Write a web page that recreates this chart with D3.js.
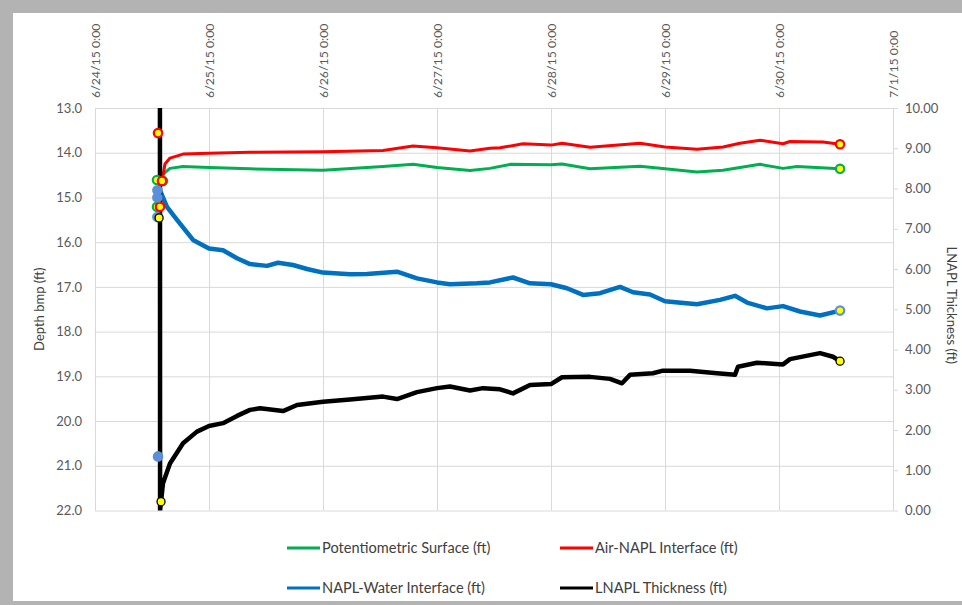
<!DOCTYPE html>
<html>
<head>
<meta charset="utf-8">
<script src="https://cdn.jsdelivr.net/npm/d3@7"></script>
<style>
  body { margin: 0; background: #b3b3b3; }
  text { font-family: Lato, "Open Sans", sans-serif; }
</style>
</head>
<body>
<div id="vis"></div>
<script>
// data (time, depth in ft / thickness in ft)
const potentiometric = [
  ["6/24/15 14:06", 14.50], ["6/24/15 15:47", 14.35], ["6/24/15 18:32", 14.31],
  ["6/25/15 0:00", 14.33], ["6/25/15 8:38", 14.36], ["6/26/15 0:00", 14.39],
  ["6/26/15 12:38", 14.31], ["6/26/15 18:57", 14.26], ["6/27/15 0:00", 14.33],
  ["6/27/15 6:57", 14.40], ["6/27/15 11:09", 14.35], ["6/27/15 15:22", 14.26],
  ["6/28/15 0:00", 14.27], ["6/28/15 2:19", 14.25], ["6/28/15 8:13", 14.36],
  ["6/28/15 18:44", 14.30], ["6/29/15 0:00", 14.36], ["6/29/15 6:44", 14.43],
  ["6/29/15 12:13", 14.39], ["6/29/15 20:00", 14.26], ["6/30/15 0:51", 14.35],
  ["6/30/15 3:47", 14.31], ["6/30/15 12:51", 14.36]
];
const airNapl = [
  ["6/24/15 14:06", 14.65], ["6/24/15 14:44", 14.25], ["6/24/15 15:47", 14.12],
  ["6/24/15 18:32", 14.03], ["6/25/15 0:00", 14.01], ["6/25/15 8:38", 13.99],
  ["6/26/15 0:00", 13.98], ["6/26/15 12:38", 13.95], ["6/26/15 18:57", 13.85],
  ["6/27/15 0:00", 13.89], ["6/27/15 6:57", 13.96], ["6/27/15 11:09", 13.90],
  ["6/27/15 13:16", 13.89], ["6/27/15 18:06", 13.80], ["6/28/15 0:00", 13.83],
  ["6/28/15 2:19", 13.79], ["6/28/15 8:13", 13.88], ["6/28/15 18:44", 13.79],
  ["6/29/15 0:00", 13.87], ["6/29/15 6:44", 13.92], ["6/29/15 12:13", 13.87],
  ["6/29/15 15:47", 13.79], ["6/29/15 20:00", 13.72], ["6/30/15 0:51", 13.80],
  ["6/30/15 2:19", 13.75], ["6/30/15 9:16", 13.76], ["6/30/15 12:51", 13.81]
];
const naplWater = [
  ["6/24/15 13:41", 14.84], ["6/24/15 15:09", 15.21], ["6/24/15 17:16", 15.50],
  ["6/24/15 20:38", 15.95], ["6/25/15 0:00", 16.14], ["6/25/15 2:57", 16.18],
  ["6/25/15 5:54", 16.36], ["6/25/15 8:38", 16.49], ["6/25/15 12:13", 16.53],
  ["6/25/15 14:32", 16.46], ["6/25/15 17:41", 16.51], ["6/25/15 20:38", 16.60],
  ["6/26/15 0:00", 16.68], ["6/26/15 5:41", 16.72], ["6/26/15 9:16", 16.71],
  ["6/26/15 15:35", 16.66], ["6/26/15 19:47", 16.81], ["6/27/15 0:00", 16.90],
  ["6/27/15 2:44", 16.94], ["6/27/15 8:25", 16.92], ["6/27/15 11:09", 16.90],
  ["6/27/15 16:00", 16.79], ["6/27/15 19:35", 16.92], ["6/28/15 0:00", 16.94],
  ["6/28/15 3:22", 17.03], ["6/28/15 6:44", 17.18], ["6/28/15 10:19", 17.14],
  ["6/28/15 14:32", 17.00], ["6/28/15 17:16", 17.12], ["6/28/15 20:51", 17.17],
  ["6/29/15 0:00", 17.32], ["6/29/15 6:44", 17.39], ["6/29/15 11:35", 17.29],
  ["6/29/15 14:44", 17.20], ["6/29/15 17:16", 17.35], ["6/29/15 21:28", 17.48],
  ["6/30/15 0:51", 17.43], ["6/30/15 4:25", 17.55], ["6/30/15 8:38", 17.64],
  ["6/30/15 12:51", 17.53]
];
const thickness = [
  ["6/24/15 13:40", 10.2], ["6/24/15 13:41", 7.27], ["6/24/15 13:42", 0.0],
  ["6/24/15 13:54", 0.22], ["6/24/15 14:19", 0.68], ["6/24/15 15:47", 1.17],
  ["6/24/15 18:32", 1.67], ["6/24/15 21:28", 1.96], ["6/25/15 0:00", 2.10],
  ["6/25/15 2:57", 2.17], ["6/25/15 5:54", 2.35], ["6/25/15 8:38", 2.50],
  ["6/25/15 10:44", 2.54], ["6/25/15 15:35", 2.47], ["6/25/15 18:32", 2.62],
  ["6/26/15 0:00", 2.70], ["6/26/15 5:41", 2.76], ["6/26/15 12:38", 2.83],
  ["6/26/15 15:35", 2.77], ["6/26/15 19:47", 2.94], ["6/27/15 0:00", 3.04],
  ["6/27/15 2:44", 3.08], ["6/27/15 6:57", 2.98], ["6/27/15 9:41", 3.04],
  ["6/27/15 13:16", 3.01], ["6/27/15 16:00", 2.91], ["6/27/15 19:35", 3.12],
  ["6/28/15 0:00", 3.14], ["6/28/15 2:19", 3.31], ["6/28/15 8:13", 3.32],
  ["6/28/15 12:25", 3.27], ["6/28/15 14:57", 3.16], ["6/28/15 16:38", 3.37],
  ["6/28/15 21:28", 3.41], ["6/28/15 23:22", 3.47], ["6/29/15 5:16", 3.47],
  ["6/29/15 10:57", 3.41], ["6/29/15 14:44", 3.37], ["6/29/15 15:22", 3.57],
  ["6/29/15 19:22", 3.67], ["6/30/15 0:51", 3.63], ["6/30/15 2:19", 3.76],
  ["6/30/15 8:38", 3.91], ["6/30/15 11:22", 3.82], ["6/30/15 12:51", 3.71]
];

// first readings plotted as single markers
const potentiometricStart = [["6/24/15 13:03", 14.61], ["6/24/15 13:03", 15.21], ["6/24/15 14:19", 14.63]];
const airNaplStart = [["6/24/15 13:16", 13.56], ["6/24/15 14:06", 14.63], ["6/24/15 13:41", 15.21]];
const naplWaterStart = [["6/24/15 13:08", 14.84], ["6/24/15 13:08", 15.0], ["6/24/15 13:08", 15.44], ["6/24/15 13:16", 20.79]];
const thicknessStart = [["6/24/15 13:30", 7.27], ["6/24/15 13:54", 0.22]];

const depthTicks = [13, 14, 15, 16, 17, 18, 19, 20, 21, 22];
const thicknessTicks = [0, 1, 2, 3, 4, 5, 6, 7, 8, 9, 10];
const seriesNames = ["Potentiometric Surface (ft)", "Air-NAPL Interface (ft)",
  "NAPL-Water Interface (ft)", "LNAPL Thickness (ft)"];

const WIDTH = 962;
const HEIGHT = 605;
const margin = { top: 108, bottom: 95, left: 95, right: 69 };
const WIDTHVIS = WIDTH - margin.left - margin.right;
const HEIGHTVIS = 402.5;

const parse = d3.timeParse("%m/%d/%y %H:%M");
const rows = (arr) => arr.map((d) => ({ t: parse(d[0]), v: d[1] }));

const SVG = d3.select("#vis").append("svg")
  .attr("width", WIDTH).attr("height", HEIGHT)
  .style("display", "block");

// chart frame
SVG.append("rect").attr("width", WIDTH).attr("height", HEIGHT).attr("fill", "#b3b3b3");
SVG.append("rect").attr("x", 13).attr("y", 13).attr("width", WIDTH - 13).attr("height", 588).attr("fill", "white");

const escalaX = d3.scaleTime()
  .domain([parse("6/24/15 0:00"), parse("7/1/15 0:00")])
  .range([0, WIDTHVIS]);
const escalaY = d3.scaleLinear().domain([13, 22]).range([0, HEIGHTVIS]);
const escalaY2 = d3.scaleLinear().domain([0, 10]).range([HEIGHTVIS, 0]);

const grafico = SVG.append("g").attr("transform", `translate(${margin.left} ${margin.top})`);

// horizontal grid + left labels
const ejeY = grafico.append("g")
  .call(d3.axisLeft(escalaY).tickValues(depthTicks).tickFormat(d3.format(".1f"))
    .tickSize(-WIDTHVIS).tickPadding(13));
ejeY.select(".domain").remove();
ejeY.selectAll("line").attr("stroke", "#d9d9d9");
ejeY.selectAll("text").attr("fill", "#595959").style("font-size", "13px");

// vertical grid + top date labels (rotated)
const ejeX = grafico.append("g")
  .call(d3.axisTop(escalaX).ticks(d3.timeDay.every(1))
    .tickFormat(d3.timeFormat("%-m/%-d/%y %-H:%M")).tickSize(0));
ejeX.select(".domain").remove();
ejeX.selectAll(".tick").append("line").attr("y2", HEIGHTVIS).attr("stroke", "#d9d9d9");
ejeX.selectAll("text")
  .attr("transform", "rotate(-90)")
  .attr("x", 10).attr("y", 0).attr("dy", "0.35em")
  .attr("text-anchor", "start")
  .attr("fill", "#595959").style("font-size", "12.3px");

// right axis
const ejeY2 = grafico.append("g")
  .attr("transform", `translate(${WIDTHVIS} 0)`)
  .call(d3.axisRight(escalaY2).tickValues(thicknessTicks).tickFormat(d3.format(".2f"))
    .tickSize(5).tickSizeOuter(0).tickPadding(7));
ejeY2.select(".domain").attr("stroke", "#d9d9d9");
ejeY2.selectAll("line").attr("stroke", "#d9d9d9");
ejeY2.selectAll("text").attr("fill", "#595959").style("font-size", "13px");

// axis titles
SVG.append("text")
  .attr("transform", `translate(44 ${margin.top + HEIGHTVIS / 2}) rotate(-90)`)
  .attr("text-anchor", "middle").attr("fill", "#404040").style("font-size", "13px")
  .text("Depth bmp (ft)");
SVG.append("text")
  .attr("transform", `translate(947 ${margin.top + HEIGHTVIS / 2 - 4}) rotate(90)`)
  .attr("text-anchor", "middle").attr("fill", "#404040").style("font-size", "13px")
  .text("LNAPL Thickness (ft)");

// clip to plot
SVG.append("clipPath").attr("id", "clip").append("rect")
  .attr("width", WIDTHVIS).attr("height", HEIGHTVIS);
const plot = grafico.append("g").attr("clip-path", "url(#clip)");

const series = [
  { data: rows(potentiometric), start: rows(potentiometricStart), y: escalaY, color: "#00b050", width: 3, ring: "#00b050" },
  { data: rows(airNapl), start: rows(airNaplStart), y: escalaY, color: "#ff0000", width: 3, ring: "#ff0000" },
  { data: rows(naplWater), start: rows(naplWaterStart), y: escalaY, color: "#0070c0", width: 4.5, ring: "#5b8fd9" },
  { data: rows(thickness), start: rows(thicknessStart), y: escalaY2, color: "#000000", width: 4.5, ring: "#000000" },
];

series.forEach((s) => {
  const linea = d3.line().x((d) => escalaX(d.t)).y((d) => s.y(d.v));
  plot.append("path").datum(s.data)
    .attr("d", linea).attr("fill", "none")
    .attr("stroke", s.color).attr("stroke-width", s.width)
    .attr("stroke-linejoin", "round");
});

// start markers and end marker of each series
series.forEach((s, i) => {
  const pts = s.start.concat([s.data[s.data.length - 1]]);
  plot.selectAll(`.m${i}`).data(pts).join("circle")
    .attr("class", `m${i}`)
    .attr("cx", (d) => escalaX(d.t)).attr("cy", (d) => s.y(d.v))
    .attr("r", i === 3 ? 4 : 4.2)
    .attr("fill", (d, j) => (i === 2 && j < s.start.length) ? s.ring : "#ffff00")
    .attr("stroke", s.ring)
    .attr("stroke-width", i === 3 ? 1.3 : 2.2);
});

// legend
const colors = ["#00b050", "#ff0000", "#0070c0", "#000000"];
const legend = SVG.append("g");
seriesNames.forEach((name, i) => {
  const lx = i % 2 === 0 ? 287 : 560;
  const ly = i < 2 ? 548 : 588;
  legend.append("line").attr("x1", lx).attr("x2", lx + 33).attr("y1", ly).attr("y2", ly)
    .attr("stroke", colors[i]).attr("stroke-width", 3);
  legend.append("text").attr("x", lx + 35).attr("y", ly).attr("dy", "0.35em")
    .attr("fill", "#404040").style("font-size", "14.6px").text(name);
});
</script>
</body>
</html>
